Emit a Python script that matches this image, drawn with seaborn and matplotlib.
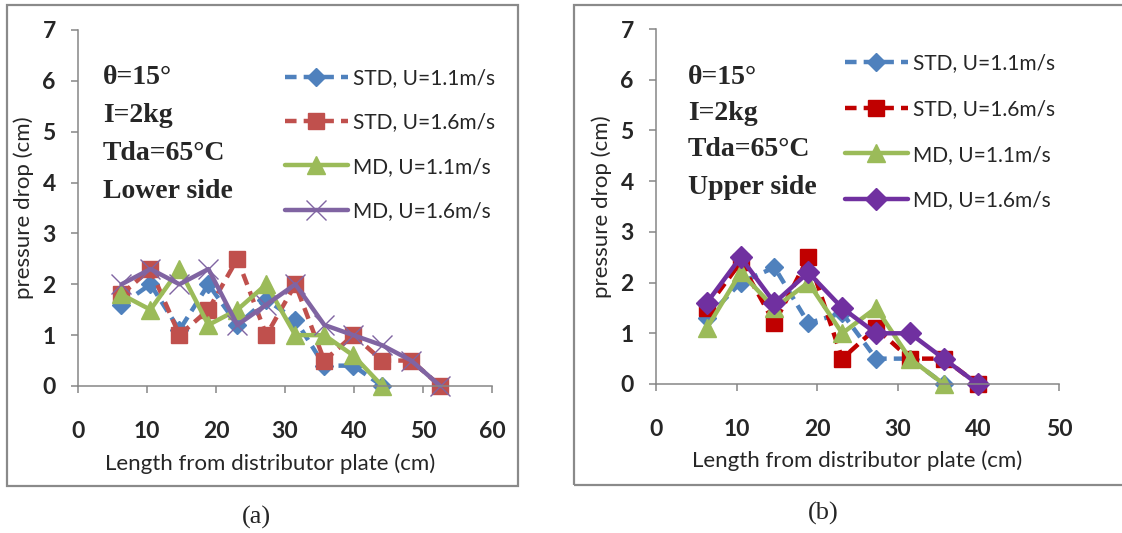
import matplotlib
matplotlib.use("Agg")
import matplotlib.pyplot as plt
from matplotlib.patches import Rectangle
import seaborn as sns

# Measuring positions along the bed (cm)
positions = [6.3, 10.5, 14.7, 18.9, 23.1, 27.3, 31.5, 35.7, 39.9, 44.1, 48.3, 52.5]

# (a) lower side, pressure drop (cm)
lower_std_11 = [1.6, 2.0, 1.1, 2.0, 1.2, 1.7, 1.3, 0.4, 0.4, 0.0]
lower_std_16 = [1.8, 2.3, 1.0, 1.5, 2.5, 1.0, 2.0, 0.5, 1.0, 0.5, 0.5, 0.0]
lower_md_11 = [1.8, 1.5, 2.3, 1.2, 1.5, 2.0, 1.0, 1.0, 0.6, 0.0]
lower_md_16 = [2.0, 2.3, 2.0, 2.3, 1.2, 1.6, 2.0, 1.2, 1.0, 0.8, 0.5, 0.0]

# (b) upper side, pressure drop (cm)
upper_std_11 = [1.3, 2.0, 2.3, 1.2, 1.4, 0.5, 0.5, 0.0]
upper_std_16 = [1.5, 2.4, 1.2, 2.5, 0.5, 1.1, 0.5, 0.5, 0.0]
upper_md_11 = [1.1, 2.2, 1.5, 2.0, 1.0, 1.5, 0.5, 0.0]
upper_md_16 = [1.6, 2.5, 1.6, 2.2, 1.5, 1.0, 1.0, 0.5, 0.0]

series_labels = ["STD, U=1.1m/s", "STD, U=1.6m/s", "MD, U=1.1m/s", "MD, U=1.6m/s"]
x_label = "Length from distributor plate (cm)"
y_label = "pressure drop (cm)"
lower_notes = ["θ=15°", "I=2kg", "Tda=65°C", "Lower side"]
upper_notes = ["θ=15°", "I=2kg", "Tda=65°C", "Upper side"]

sns.set_theme(style="white")
plt.rcParams["font.family"] = ["Lato", "DejaVu Sans"]

W, H = 1122, 533
fig = plt.figure(figsize=(W / 100, H / 100), dpi=100)
fig.patch.set_facecolor("white")

AXIS_GREY = "#868686"
DASH = (0, (2.6, 1.6))


def px_rect(x0, y0, x1, y1):
    return [x0 / W, 1 - y1 / H, (x1 - x0) / W, (y1 - y0) / H]


def draw_panel(ax, data, styles, xmax):
    for (vals, label, (color, marker, ms, ls, mew)) in zip(data, series_labels, styles):
        sns.lineplot(x=positions[:len(vals)], y=vals, ax=ax, color=color,
                     marker=marker, markersize=ms, linestyle=ls, linewidth=3.2,
                     markeredgecolor=color, markeredgewidth=mew, label=label,
                     clip_on=False)
    ax.set_xlim(0, xmax)
    ax.set_ylim(0, 7)
    ax.set_xticks(range(0, xmax + 1, 10))
    ax.set_yticks(range(0, 8))
    for side in ("top", "right"):
        ax.spines[side].set_visible(False)
    for side in ("left", "bottom"):
        ax.spines[side].set_color(AXIS_GREY)
        ax.spines[side].set_linewidth(1.1)
    ax.tick_params(axis="x", direction="out", length=5, width=1.1, color=AXIS_GREY,
                   pad=20, labelsize=16.5, bottom=True)
    ax.tick_params(axis="y", direction="out", length=5, width=1.1, color=AXIS_GREY,
                   pad=11, labelsize=16.5, left=True)
    for t in ax.get_xticklabels() + ax.get_yticklabels():
        t.set_fontweight("bold")
    ax.set_xlabel(x_label, fontsize=16, labelpad=8)
    ax.set_ylabel(y_label, fontsize=16, labelpad=6)
    ax.grid(False)


left_styles = [
    ("#4F81BD", "D", 9, DASH, 1),
    ("#C0504D", "s", 12, DASH, 1),
    ("#9BBB59", "^", 13, "-", 1),
    ("#8064A2", "x", 14, "-", 1.0),
]
right_styles = [
    ("#4F81BD", "D", 9, DASH, 1),
    ("#C00000", "s", 12, DASH, 1),
    ("#9BBB59", "^", 13, "-", 1),
    ("#7030A0", "D", 11, "-", 1),
]

ax_a = fig.add_axes(px_rect(78, 30, 492, 386))
draw_panel(ax_a, [lower_std_11, lower_std_16, lower_md_11, lower_md_16], left_styles, 60)
ax_a.xaxis.set_label_coords(0.465, -0.19)
ax_b = fig.add_axes(px_rect(656, 29, 1059, 384))
draw_panel(ax_b, [upper_std_11, upper_std_16, upper_md_11, upper_md_16], right_styles, 50)

# Legends
for ax, anchor, spacing in ((ax_a, (285, 68), 1.17), (ax_b, (845, 53), 1.24)):
    ax.legend(loc="upper left", bbox_to_anchor=(anchor[0] / W, 1 - anchor[1] / H),
              bbox_transform=fig.transFigure, frameon=False, fontsize=15,
              handlelength=3.0, handletextpad=0.25, labelspacing=spacing,
              borderaxespad=0, borderpad=0)

# Condition notes
serif = ["Liberation Serif", "DejaVu Serif"]
for notes, x0, ys in ((lower_notes, 103, [78, 116, 154, 192]),
                      (upper_notes, 688, [78, 114, 150, 187])):
    for txt, y in zip(notes, ys):
        fig.text(x0 / W, 1 - y / H, txt, fontsize=20, fontweight="bold",
                 family=serif, va="center", ha="left")

# Panel frames
for x0, y0, x1, y1 in ((7, 5, 518, 486), (574, 5, 1130, 485)):
    fig.patches.append(Rectangle((x0 / W, 1 - y1 / H), (x1 - x0) / W, (y1 - y0) / H,
                                 transform=fig.transFigure, fill=False,
                                 edgecolor="#8a8a8a", linewidth=1.6))

fig.text(256 / W, 1 - 517 / H, "(a)", fontsize=19, family=serif, ha="center", va="center")
fig.text(823 / W, 1 - 513 / H, "(b)", fontsize=19, family=serif, ha="center", va="center")

fig.savefig("out.png", dpi=100, facecolor="white")
